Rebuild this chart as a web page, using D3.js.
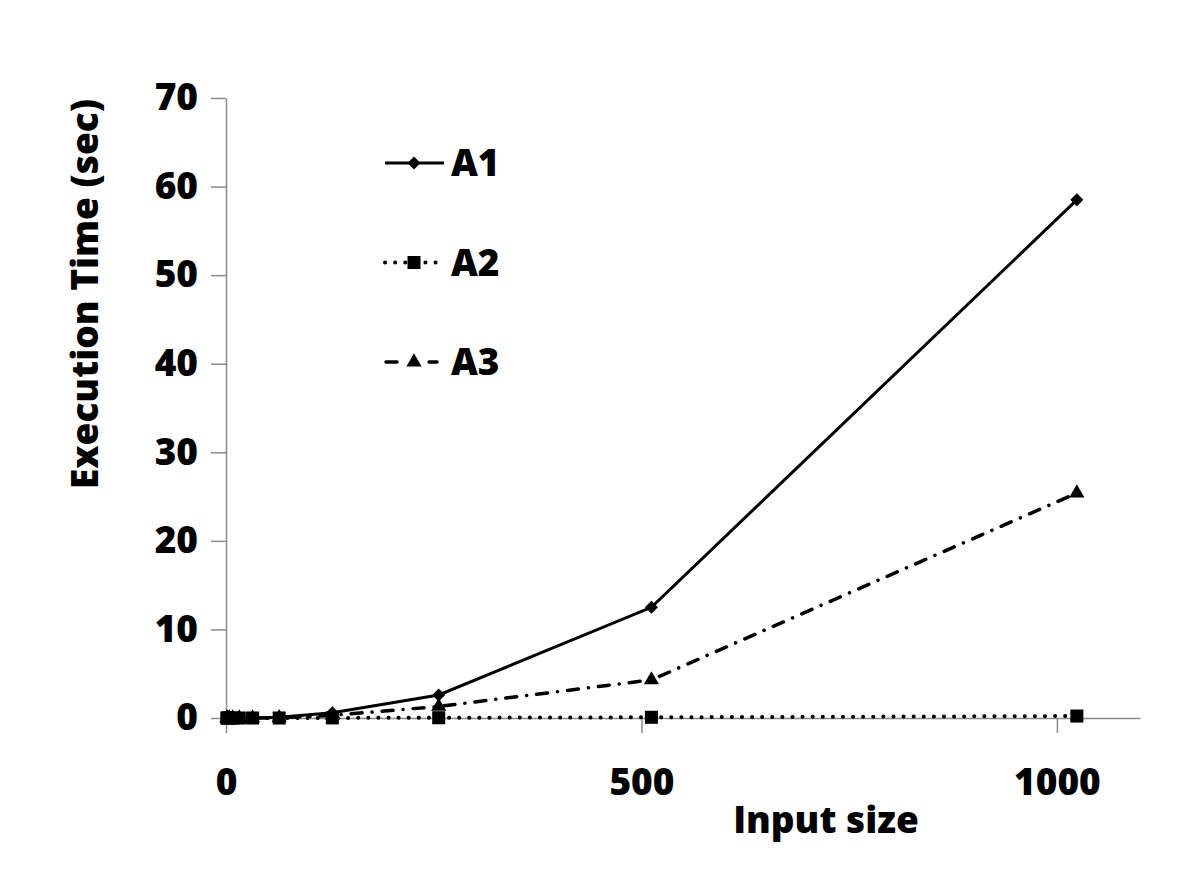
<!DOCTYPE html>
<html>
<head>
<meta charset="utf-8">
<script src="https://cdn.jsdelivr.net/npm/d3@7"></script>
<style>
    body { margin: 0; background: #fff; }
    svg { display: block; font-family: "Open Sans", "Liberation Sans", sans-serif; font-weight: 800; }
</style>
</head>
<body>
<div id="chart"></div>
<script>
// values
const inputSizes = [1, 2, 4, 8, 16, 32, 64, 128, 256, 512, 1024];
const a1Times = [0, 0, 0, 0, 0, 0.01, 0.08, 0.6, 2.6, 12.5, 58.5];
const a2Times = [0, 0, 0, 0, 0, 0, 0, 0.01, 0.03, 0.08, 0.22];
const a3Times = [0, 0, 0, 0, 0, 0, 0.03, 0.3, 1.3, 4.3, 25.4];
const seriesNames = ["A1", "A2", "A3"];
const xTicks = [0, 500, 1000];
const yTicks = [0, 10, 20, 30, 40, 50, 60, 70];

const width = 1200, height = 890;
const axisColor = "#8a8a8a";
const fontSize = "37px";

const svg = d3.select("#chart").append("svg")
    .attr("width", width)
    .attr("height", height);

const x = d3.scaleLinear().domain([0, 1100]).range([226, 1140]);
const y = d3.scaleLinear().domain([0, 70]).range([718, 98]);

// axes
const xAxis = svg.append("g")
    .attr("transform", `translate(0,${y(0)})`)
    .call(d3.axisBottom(x).tickValues(xTicks).tickFormat(d3.format("d"))
        .tickSize(15).tickSizeOuter(0).tickPadding(36));

const yAxis = svg.append("g")
    .attr("transform", `translate(${x(0)},0)`)
    .call(d3.axisLeft(y).tickValues(yTicks).tickSize(15).tickSizeOuter(0).tickPadding(13));

[xAxis, yAxis].forEach(g => {
    g.select(".domain").attr("stroke", axisColor).attr("stroke-width", 1.5);
    g.selectAll(".tick line").attr("stroke", axisColor).attr("stroke-width", 1.5);
    g.selectAll(".tick text")
        .attr("fill", "#000")
        .style("font-size", fontSize)
        .style("font-family", "'Open Sans', sans-serif")
        .style("font-weight", 800);
});

// axis titles
svg.append("text")
    .attr("x", 826)
    .attr("y", 833)
    .attr("text-anchor", "middle")
    .style("font-size", fontSize)
    .text("Input size");

svg.append("text")
    .attr("transform", "translate(98,294) rotate(-90)")
    .attr("text-anchor", "middle")
    .style("font-size", fontSize)
    .text("Execution Time (sec)");

const series = [
    { name: seriesNames[0], values: a1Times, dash: null, cap: "butt", width: 3,
      symbol: d3.symbolSquare, size: 85, rotate: 45 },
    { name: seriesNames[1], values: a2Times, dash: "0.1 10", cap: "round", width: 4,
      symbol: d3.symbolSquare, size: 170, rotate: 0 },
    { name: seriesNames[2], values: a3Times, dash: "11 10 0.1 10", cap: "round", width: 3.5,
      symbol: d3.symbolTriangle, size: 100, rotate: 0 }
];

const line = d3.line()
    .x(d => x(d[0]))
    .y(d => y(d[1]));

series.forEach(s => {
    const pts = inputSizes.map((v, i) => [v, s.values[i]]);
    svg.append("path")
        .datum(pts)
        .attr("d", line)
        .attr("fill", "none")
        .attr("stroke", "#000")
        .attr("stroke-width", s.width)
        .attr("stroke-linecap", s.cap)
        .attr("stroke-dasharray", s.dash);

    svg.append("g")
        .selectAll("path")
        .data(pts)
        .enter().append("path")
        .attr("d", d3.symbol().type(s.symbol).size(s.size))
        .attr("transform", d => `translate(${x(d[0])},${y(d[1])}) rotate(${s.rotate})`)
        .attr("fill", "#000");
});

// legend
const legendY = d3.scalePoint().domain(seriesNames).range([163, 362]);

const legendItems = svg.append("g")
    .selectAll("g")
    .data(series)
    .enter().append("g")
    .attr("transform", d => `translate(0,${legendY(d.name)})`);

legendItems.append("line")
    .attr("x1", d => d.name === "A3" ? 386 : 385)
    .attr("x2", d => d.name === "A1" ? 444 : 437)
    .attr("stroke", "#000")
    .attr("stroke-width", d => d.width)
    .attr("stroke-linecap", d => d.cap)
    .attr("stroke-dasharray", d => d.name === "A3" ? "11 16 0.1 16" : d.dash);

legendItems.append("path")
    .attr("d", d => d3.symbol().type(d.symbol).size(d.size)())
    .attr("transform", d => `translate(414,0) rotate(${d.rotate})`)
    .attr("fill", "#000");

legendItems.append("text")
    .attr("x", 451)
    .attr("dy", "0.36em")
    .style("font-size", fontSize)
    .text(d => d.name);
</script>
</body>
</html>
